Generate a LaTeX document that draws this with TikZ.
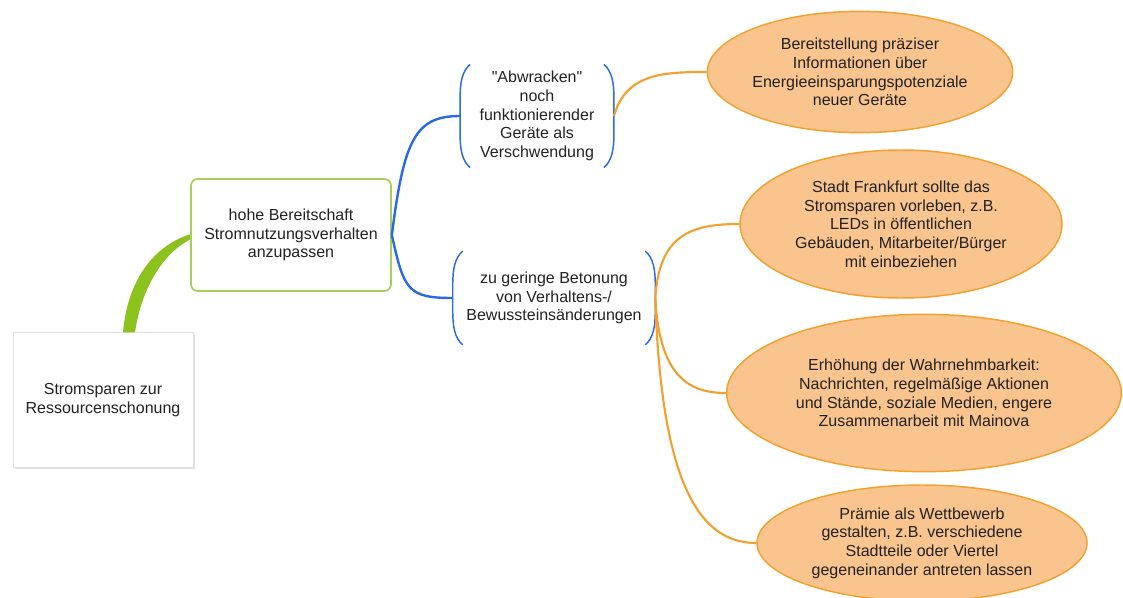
\documentclass[tikz,border=0pt]{standalone}
\usepackage{fontspec}
\setmainfont{Liberation Sans}[Ligatures=TeXOff]
\usetikzlibrary{shapes.geometric, calc, shadows}
\definecolor{cgreen}{HTML}{8CC21E}
\definecolor{cgreenline}{HTML}{A6D05A}
\definecolor{cblue}{HTML}{2A6AE0}
\definecolor{corange}{HTML}{F2A12E}
\definecolor{cpeach}{HTML}{F9C48E}
\definecolor{ctext}{HTML}{222222}
\tikzset{
  every picture/.style={font=\fontsize{12}{14}\selectfont, text=ctext},
  rootbox/.style={draw=black!12, fill=white, align=center, minimum width=135pt, minimum height=101pt,
    drop shadow={opacity=0.25, shadow xshift=1.2pt, shadow yshift=-1.2pt}},
  topic/.style={draw=cgreenline, line width=1.3pt, fill=white, rounded corners=5pt, align=center,
    minimum width=150pt, minimum height=84pt},
  sub/.style={align=center, inner sep=0pt},
  paren/.style={draw=cblue, line width=1.1pt},
  idea/.style={ellipse, draw=corange, line width=1.1pt, fill=cpeach, align=center, inner sep=0pt},
  blueline/.style={draw=cblue, line width=1.8pt},
  orangeline/.style={draw=corange, line width=1.6pt},
}
\begin{document}
\begin{tikzpicture}[x=0.75pt, y=-0.75pt]
  \useasboundingbox (0,0) rectangle (1123,598);
  % centre and first branch
  \node[rootbox] (root) at (103,400) {Stromsparen zur\\Ressourcenschonung};
  \fill[cgreen] ($(root.north)+(20,0)$) .. controls (128,275) and (158,244) .. (191,234)
    -- (191,239) .. controls (165,252) and (142,285) .. ($(root.north)+(32,0)$) -- cycle;
  \node[topic] (hohe) at (291,235) {hohe Bereitschaft\\Stromnutzungsverhalten\\anzupassen};
  % bracketed sub-topics
  \node[sub, minimum width=115pt, minimum height=77pt] (abw) at (537,116)
    {"Abwracken"\\noch\\funktionierender\\Geräte als\\Verschwendung};
  \node[sub, minimum width=151.5pt, minimum height=70pt] (bet) at (554,298)
    {zu geringe Betonung\\von Verhaltens-/\\Bewussteinsänderungen};
  \foreach \n in {abw,bet} {
    \draw[paren] ($(\n.north west)+(10,0)$) .. controls +(-8,7) and +(0,-16) .. ($(\n.north west)+(0,34)$)
      -- ($(\n.south west)+(0,-34)$) .. controls +(0,16) and +(-8,-7) .. ($(\n.south west)+(10,0)$);
    \draw[paren] ($(\n.north east)+(-10,0)$) .. controls +(8,7) and +(0,-16) .. ($(\n.north east)+(0,34)$)
      -- ($(\n.south east)+(0,-34)$) .. controls +(0,16) and +(8,-7) .. ($(\n.south east)+(-10,0)$);
  }
  \draw[blueline] (hohe.east) .. controls +(12,-95) and +(-45,0) .. (abw.west);
  \draw[blueline] (hohe.east) .. controls +(12,55) and +(-45,0) .. (bet.west);
  % ideas
  \node[idea, minimum width=229pt, minimum height=91pt] (info) at (860,72)
    {Bereitstellung präziser\\Informationen über\\Energieeinsparungspotenziale\\neuer Geräte};
  \node[idea, minimum width=241.5pt, minimum height=111pt] (ffm) at (901,224)
    {Stadt Frankfurt sollte das\\Stromsparen vorleben, z.B.\\LEDs in öffentlichen\\Gebäuden, Mitarbeiter/Bürger\\mit einbeziehen};
  \node[idea, minimum width=296pt, minimum height=118pt] (wahr) at (924,393)
    {Erhöhung der Wahrnehmbarkeit:\\Nachrichten, regelmäßige Aktionen\\und Stände, soziale Medien, engere\\Zusammenarbeit mit Mainova};
  \node[idea, minimum width=247.5pt, minimum height=87pt] (praemie) at (922,543)
    {Prämie als Wettbewerb\\gestalten, z.B. verschiedene\\Stadtteile oder Viertel\\gegeneinander antreten lassen};
  \draw[orangeline] (abw.east) .. controls +(12,-42) and +(-45,0) .. (info.west);
  \draw[orangeline] (bet.east) .. controls +(4,-62) and +(-50,0) .. (ffm.west);
  \draw[orangeline] (bet.east) .. controls +(4,75) and +(-40,0) .. (wahr.west);
  \draw[orangeline] (bet.east) .. controls +(6,190) and +(-55,0) .. (praemie.west);
\end{tikzpicture}
\end{document}
